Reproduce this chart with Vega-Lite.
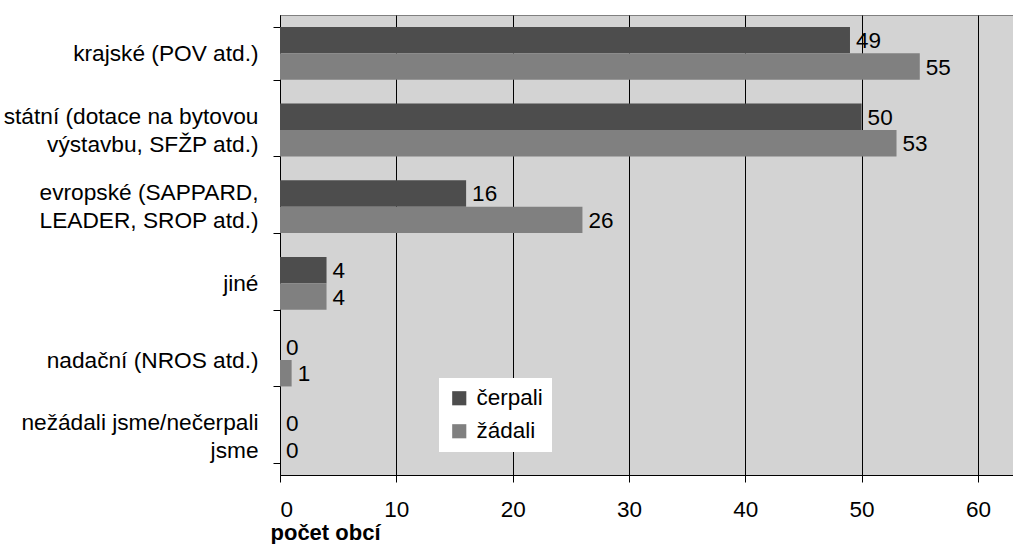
{
  "$schema": "https://vega.github.io/schema/vega-lite/v6.json",
  "autosize": "none",
  "width": 734,
  "height": 460,
  "padding": {"left": 280, "top": 15, "right": 0, "bottom": 69},
  "background": "white",
  "config": {
    "font": "Liberation Sans",
    "view": {"stroke": "#808080", "strokeWidth": 1, "fill": "#d3d3d3"},
    "axis": {"labelColor": "black", "titleColor": "black", "domainColor": "black", "tickColor": "black", "labelFont": "Liberation Sans", "titleFont": "Liberation Sans"}
  },
  "data": {
    "values": [
      {"kategorie": "krajské (POV atd.)", "serie": "čerpali", "pocet": 49},
      {"kategorie": "krajské (POV atd.)", "serie": "žádali", "pocet": 55},
      {"kategorie": "státní (dotace na bytovou|výstavbu, SFŽP atd.)", "serie": "čerpali", "pocet": 50},
      {"kategorie": "státní (dotace na bytovou|výstavbu, SFŽP atd.)", "serie": "žádali", "pocet": 53},
      {"kategorie": "evropské (SAPPARD,|LEADER, SROP atd.)", "serie": "čerpali", "pocet": 16},
      {"kategorie": "evropské (SAPPARD,|LEADER, SROP atd.)", "serie": "žádali", "pocet": 26},
      {"kategorie": "jiné", "serie": "čerpali", "pocet": 4},
      {"kategorie": "jiné", "serie": "žádali", "pocet": 4},
      {"kategorie": "nadační (NROS atd.)", "serie": "čerpali", "pocet": 0},
      {"kategorie": "nadační (NROS atd.)", "serie": "žádali", "pocet": 1},
      {"kategorie": "nežádali jsme/nečerpali|jsme", "serie": "čerpali", "pocet": 0},
      {"kategorie": "nežádali jsme/nečerpali|jsme", "serie": "žádali", "pocet": 0}
    ]
  },
  "encoding": {
    "y": {
      "field": "kategorie",
      "type": "nominal",
      "sort": null,
      "scale": {"paddingInner": 0.31, "paddingOuter": 0.155},
      "axis": {
        "title": null,
        "labelExpr": "split(datum.label, '|')",
        "labelFontSize": 22.7,
        "labelLineHeight": 28,
        "labelLimit": 0,
        "labelPadding": 15,
        "labelBaseline": {"condition": {"test": "(datum.index > 0.1 && datum.index < 0.5) || datum.index > 0.9", "value": "line-bottom"}, "value": "middle"},
        "tickSize": 7,
        "tickBand": "extent",
        "grid": false,
        "domainWidth": 1
      }
    },
    "yOffset": {
      "field": "serie",
      "type": "nominal",
      "sort": ["čerpali", "žádali"],
      "scale": {"paddingInner": 0, "paddingOuter": 0}
    },
    "x": {
      "field": "pocet",
      "type": "quantitative",
      "scale": {"domain": [0, 63.1], "nice": false, "zero": true},
      "axis": {
        "values": [0, 10, 20, 30, 40, 50, 60],
        "grid": true,
        "gridColor": "black",
        "gridOpacity": 1,
        "gridWidth": 1,
        "tickSize": 7,
        "labelFontSize": 22.5,
        "labelPadding": 16,
        "title": "počet obcí",
        "titleFontSize": 22,
        "titleFontWeight": "bold",
        "titleAlign": "left",
        "titleAnchor": "start",
        "titleX": -10,
        "titleY": 57,
        "titleBaseline": "middle"
      }
    }
  },
  "layer": [
    {
      "mark": {"type": "bar", "strokeWidth": 0},
      "encoding": {
        "color": {
          "field": "serie",
          "type": "nominal",
          "sort": ["čerpali", "žádali"],
          "scale": {"domain": ["čerpali", "žádali"], "range": ["#4d4d4d", "#808080"]},
          "legend": {
            "title": null,
            "orient": "none",
            "legendX": 159,
            "legendY": 363,
            "fillColor": "white",
            "padding": 9,
            "symbolType": "square",
            "symbolSize": 200,
            "symbolStrokeWidth": 0,
            "symbolOpacity": 1,
            "labelFontSize": 22.5,
            "labelFont": "Liberation Sans",
            "labelColor": "black",
            "rowPadding": 10,
            "labelOffset": 6
          }
        }
      }
    },
    {
      "mark": {"type": "text", "align": "left", "baseline": "middle", "dx": 6, "dy": 1, "fontSize": 22.5, "font": "Liberation Sans", "color": "black"},
      "encoding": {"text": {"field": "pocet", "type": "quantitative"}}
    }
  ]
}
